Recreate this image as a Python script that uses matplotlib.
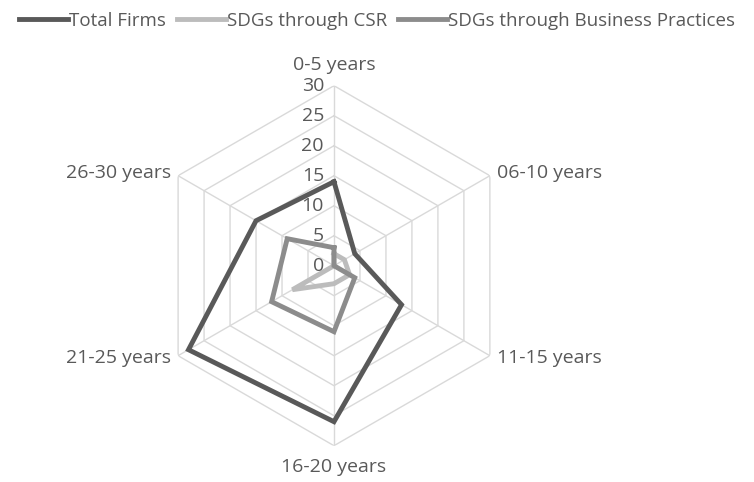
import numpy as np
import matplotlib
matplotlib.use("Agg")
import matplotlib.pyplot as plt
import matplotlib.transforms as mtrans

categories = ["0-5 years", "06-10 years", "11-15 years", "16-20 years", "21-25 years", "26-30 years"]
total_firms = [14, 4, 13, 26, 28, 15]
sdg_csr = [2, 2, 3, 3, 8, 0]
sdg_business = [3, 0, 4, 11, 12, 9]
r_ticks = [0, 5, 10, 15, 20, 25, 30]

plt.rcParams["font.family"] = ["Open Sans", "DejaVu Sans"]
txt = "#595959"
grid_c = "#d9d9d9"
fs = 14

fig = plt.figure(figsize=(7.54, 4.82), dpi=100)
ax = fig.add_axes([0.2042, 0.0753, 0.4775, 0.7469], projection="polar")
ax.set_theta_zero_location("N")
ax.set_theta_direction(-1)
ax.set_ylim(0, 30)
ax.grid(False)
ax.spines["polar"].set_visible(False)
ax.set_xticks([])
ax.set_yticks([])

n = len(categories)
theta = np.arange(n) * 2 * np.pi / n
theta_c = np.append(theta, theta[0])

### hexagon grid
for r in r_ticks[1:]:
    ax.plot(theta_c, [r] * (n + 1), color=grid_c, lw=1, zorder=1)
for t in theta:
    ax.plot([t, t], [0, 30], color=grid_c, lw=1, zorder=1)

### series
series = [("Total Firms", total_firms, "#595959"),
          ("SDGs through CSR", sdg_csr, "#bcbcbc"),
          ("SDGs through Business Practices", sdg_business, "#8c8c8c")]
for name, vals, col in series:
    ax.plot(theta_c, vals + vals[:1], color=col, lw=3.5, label=name, zorder=3,
            solid_joinstyle="miter")

### radial labels
off = mtrans.offset_copy(ax.transData, fig=fig, x=-10, y=0, units="dots")
for r in r_ticks:
    ax.text(0, r, str(r), transform=off, ha="right", va="center",
            fontsize=fs, color=txt)

### category labels
pos = [(0, 12, "center", "bottom"), (7, 3, "left", "center"), (7, -2, "left", "center"),
       (0, -12, "center", "top"), (-7, -2, "right", "center"), (-7, 3, "right", "center")]
for t, lab, (dx, dy, ha, va) in zip(theta, categories, pos):
    tr = mtrans.offset_copy(ax.transData, fig=fig, x=dx, y=dy, units="dots")
    ax.text(t, 30, lab, transform=tr, ha=ha, va=va, fontsize=fs, color=txt)

fig.legend(loc="upper center", bbox_to_anchor=(0.5, 1.01), ncol=3, frameon=False,
           fontsize=13.5, handlelength=2.6, handletextpad=0.05, columnspacing=0.6,
           labelcolor=txt)

fig.savefig("out.png", dpi=100)
